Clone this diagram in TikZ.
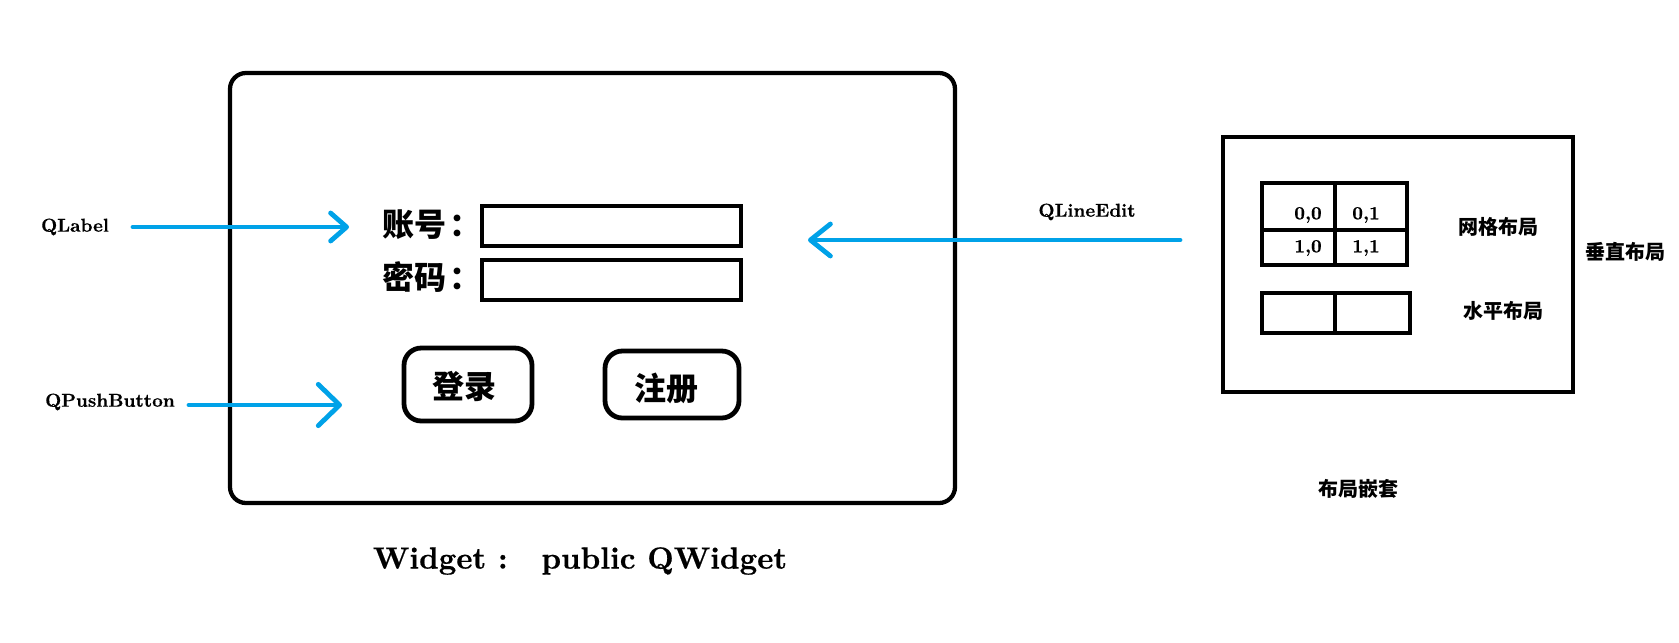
\documentclass[tikz,border=0pt]{standalone}
\usepackage{fontspec}
\setmainfont{lmroman10-regular.otf}[BoldFont=lmroman10-bold.otf,BoldFeatures={FakeBold=0.5}]
\newfontfamily\cjk{Noto Sans CJK SC}
\usetikzlibrary{arrows.meta}
\definecolor{qblue}{RGB}{0,162,232}
\begin{document}
\begin{tikzpicture}[x=0.75pt,y=-0.75pt,
  box/.style={draw=black,line width=3.2pt},
  thickbox/.style={draw=black,line width=3.6pt},
  lat/.style={font=\fontsize{14}{16}\selectfont\bfseries,inner sep=0pt},
  cjkbig/.style={font=\cjk\bfseries\fontsize{24}{28}\selectfont,inner sep=0pt},
  cjksmall/.style={font=\cjk\bfseries\fontsize{15}{18}\selectfont,inner sep=0pt},
  blue arrow/.style={draw=qblue,line width=3.6pt,line cap=round}]
\useasboundingbox (0,0) rectangle (1679,643);
\fill[white] (0,0) rectangle (1679,643);

% main widget window
\draw[box,rounded corners=12pt] (230,73) rectangle (955,503);
\draw[thickbox] (482,206) rectangle (741,246);
\draw[thickbox] (482,260) rectangle (741,300);
\draw[thickbox,rounded corners=13pt] (404,348) rectangle (532,421);
\draw[thickbox,rounded corners=13pt] (605,351) rectangle (739,418);

\node[cjkbig,anchor=west] (acc) at (382,225) {账号\hspace{0.1em}：};
\node[cjkbig,anchor=west] (pwd) at (382,277) {密码\hspace{0.1em}：};
\node[cjkbig] (login) at (464,386) {登录};
\node[cjkbig] (reg) at (666,388) {注册};

\node[font=\fontsize{23}{27}\selectfont\bfseries,inner sep=0pt] (title) at (580,561) {Widget :\hspace{1.1em}public QWidget};

% labels and arrows
\node[lat] (qlabel) at (75,227) {QLabel};
\node[lat] (qpush) at (110,402) {QPushButton};
\node[lat] (qline) at (1087,212) {QLineEdit};

\coordinate (a1s) at (133,227);
\coordinate (a1e) at (349,227);
\coordinate (a2s) at (189,405);
\coordinate (a2e) at (342,405);
\coordinate (a3s) at (1180,240);
\coordinate (a3e) at (808,240);
\draw[blue arrow,-{Straight Barb[length=12pt,width=21pt,round]}] (a1s) -- (a1e);
\draw[blue arrow,-{Straight Barb[length=16pt,width=31pt,round]}] (a2s) -- (a2e);
\draw[blue arrow,-{Straight Barb[length=15pt,width=24pt,round]}] (a3s) -- (a3e);

% layout panel
\draw[box] (1223,137) rectangle (1573,392);
\draw[box] (1262,183) rectangle (1407,265);
\draw[box] (1335,183) -- (1335,265);
\draw[box] (1262,230) -- (1407,230);
\draw[box] (1262,293) rectangle (1410,333);
\draw[box] (1335,293) -- (1335,333);

\node[lat] (g00) at (1308,215) {0,0};
\node[lat] (g01) at (1366,215) {0,1};
\node[lat] (g10) at (1308,248) {1,0};
\node[lat] (g11) at (1366,248) {1,1};

\node[cjksmall] (grid) at (1498,227) {网格布局};
\node[cjksmall] (hbox) at (1503,311) {水平布局};
\node[cjksmall] (vbox) at (1625,252) {垂直布局};
\node[cjksmall] (nest) at (1358,489) {布局嵌套};
\end{tikzpicture}
\end{document}
